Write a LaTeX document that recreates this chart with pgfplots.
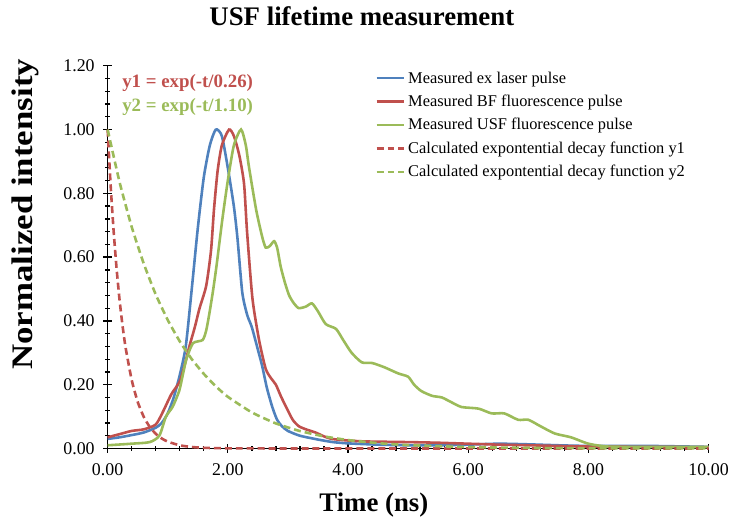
\documentclass[border=0pt]{standalone}
\usepackage{pgfplots}
\pgfplotsset{compat=1.18}
\usepackage{fontspec}
\setmainfont{Liberation Serif}
\definecolor{cblue}{HTML}{4F81BD}
\definecolor{cred}{HTML}{C0504D}
\definecolor{cgreen}{HTML}{9BBB59}
\begin{document}
\begin{tikzpicture}
\begin{axis}[
  at={(0,0)}, anchor=south west,
  scale only axis, width=603bp, height=384bp,
  xmin=0, xmax=10, ymin=0, ymax=1.2,
  axis x line*=bottom, axis y line*=left, axis line style={-, line width=1.3bp, black},
  xtick={0,2,4,6,8,10}, ytick={0,0.2,0.4,0.6,0.8,1.0,1.2},
  minor x tick num=4, minor y tick num=4,
  tick align=center, major tick length=9bp, minor tick length=5bp,
  tick style={black, line width=1.3bp},
  /pgf/number format/assume math mode=true,
  xticklabel style={yshift=-7bp, /pgf/number format/.cd, fixed, fixed zerofill, precision=2},
  yticklabel style={xshift=-5bp, /pgf/number format/.cd, fixed, fixed zerofill, precision=2},
  tick label style={font=\fontsize{18}{21}\selectfont},
  scaled ticks=false,
  xlabel={Time (ns)},
  ylabel={\scalebox{1.17}[1]{Normalized intensity}},
  xlabel style={at={(axis description cs:0.443,-0.164)}, anchor=base, font=\fontsize{27}{30}\selectfont\bfseries},
  ylabel style={at={(axis description cs:-0.1244,0.612)}, anchor=base, font=\fontsize{30}{33}\selectfont\bfseries},
  clip=false,
  legend style={draw=none, fill=none, at={(axis cs:4.45,1.19)}, anchor=north west,
    font=\fontsize{16.5}{19}\selectfont, row sep=5.5bp, inner sep=0pt,
    nodes={inner sep=2.5bp}},
  legend cell align=left,
  legend image code/.code={\draw[#1, line width=2.6bp] (0bp,0bp) -- (28bp,0bp);},
]
\addplot[cblue, line width=2.6bp, smooth, tension=0.4] coordinates {
(0,0.03) (0.2,0.035) (0.4,0.042) (0.6,0.05) (0.8,0.065) (0.9,0.08) (1.0,0.11) (1.1,0.16)
(1.2,0.23) (1.3,0.32) (1.4,0.50) (1.5,0.69) (1.6,0.85) (1.7,0.95) (1.8,1.0) (1.9,0.98)
(2.0,0.88) (2.1,0.76) (2.16,0.66) (2.24,0.49) (2.32,0.42) (2.4,0.38) (2.5,0.31) (2.57,0.26)
(2.65,0.19) (2.74,0.13) (2.82,0.09) (2.9,0.07) (3.0,0.055) (3.2,0.04) (3.5,0.028) (3.75,0.02)
(4.0,0.016) (4.5,0.012) (5.0,0.01) (5.5,0.01) (6.0,0.012) (6.5,0.015) (7.0,0.013) (7.5,0.01)
(8.0,0.008) (9.0,0.008) (10,0.005)};
\addlegendentry{Measured ex laser pulse}
\addplot[cred, line width=2.6bp, smooth, tension=0.4] coordinates {
(0,0.035) (0.2,0.045) (0.4,0.055) (0.6,0.06) (0.8,0.075) (0.92,0.115) (1.06,0.17) (1.2,0.21)
(1.28,0.26) (1.36,0.32) (1.45,0.38) (1.53,0.44) (1.64,0.51) (1.72,0.62) (1.77,0.75) (1.83,0.87)
(1.9,0.95) (2.02,1.0) (2.1,0.98) (2.19,0.92) (2.27,0.83) (2.32,0.68) (2.41,0.47) (2.52,0.34)
(2.63,0.25) (2.72,0.22) (2.8,0.20) (2.88,0.165) (2.97,0.13) (3.08,0.09) (3.18,0.07) (3.3,0.06)
(3.46,0.05) (3.6,0.038) (3.73,0.03) (4.0,0.025) (4.3,0.022) (5.0,0.02) (5.5,0.018) (6.0,0.015)
(6.5,0.012) (7.0,0.01) (8.0,0.006) (9.0,0.005) (10,0.004)};
\addlegendentry{Measured BF fluorescence pulse}
\addplot[cgreen, line width=2.6bp, smooth, tension=0.4] coordinates {
(0,0.01) (0.4,0.015) (0.7,0.02) (0.86,0.04) (0.97,0.10) (1.08,0.13) (1.19,0.18) (1.25,0.23)
(1.31,0.28) (1.42,0.33) (1.58,0.34) (1.64,0.37) (1.69,0.42) (1.75,0.49) (1.81,0.57) (1.91,0.72)
(2.0,0.84) (2.1,0.95) (2.22,1.0) (2.3,0.95) (2.35,0.885) (2.47,0.75) (2.57,0.665) (2.63,0.63)
(2.7,0.635) (2.77,0.65) (2.82,0.63) (2.88,0.57) (2.95,0.52) (3.02,0.48) (3.1,0.455) (3.18,0.44)
(3.3,0.445) (3.4,0.455) (3.5,0.43) (3.63,0.39) (3.8,0.375) (3.92,0.34) (4.06,0.30) (4.23,0.27)
(4.4,0.268) (4.6,0.255) (4.84,0.235) (5.0,0.225) (5.1,0.20) (5.22,0.18) (5.4,0.165) (5.56,0.16)
(5.72,0.145) (5.89,0.13) (6.17,0.125) (6.39,0.11) (6.6,0.11) (6.83,0.09) (7.0,0.09) (7.2,0.07)
(7.44,0.047) (7.71,0.035) (8.0,0.015) (8.33,0.006) (9.0,0.005) (10,0.005)};
\addlegendentry{Measured USF fluorescence pulse}
\addplot[cred, line width=2.6bp, dash pattern=on 7bp off 4bp, smooth, tension=0.3] coordinates {
(0,1.000) (0.05,0.825) (0.1,0.681) (0.15,0.562) (0.2,0.463) (0.25,0.382) (0.3,0.315) (0.4,0.215)
(0.5,0.146) (0.6,0.0995) (0.7,0.0677) (0.8,0.0461) (0.9,0.0314) (1.0,0.0214) (1.2,0.0099)
(1.4,0.0046) (1.6,0.0021) (2.0,0.0005) (3.0,0.0) (10,0.0)};
\addlegendentry{Calculated expontential decay function y1}
\addplot[cgreen, line width=2.6bp, dash pattern=on 7bp off 4bp, smooth, tension=0.3] coordinates {
(0,1.000) (0.2,0.834) (0.4,0.695) (0.6,0.580) (0.8,0.483) (1.0,0.403) (1.2,0.336) (1.4,0.280)
(1.6,0.234) (1.8,0.195) (2.0,0.162) (2.4,0.113) (2.8,0.0785) (3.2,0.0546) (3.6,0.0379)
(4.0,0.0264) (4.5,0.0167) (5.0,0.0106) (6.0,0.0043) (7.0,0.0017) (8.0,0.0007) (9.0,0.0003) (10,0.0001)};
\addlegendentry{Calculated expontential decay function y2}
\node[anchor=west, text=cred, font=\fontsize{19}{22}\selectfont\bfseries, inner sep=0pt] at (axis cs:0.24,1.147) {y1 = exp(-t/0.26)};
\node[anchor=west, text=cgreen, font=\fontsize{19}{22}\selectfont\bfseries, inner sep=0pt] at (axis cs:0.24,1.072) {y2 = exp(-t/1.10)};
\node[anchor=base, font=\fontsize{27}{30}\selectfont\bfseries, inner sep=0pt] at (axis description cs:0.423,1.104) {USF lifetime measurement};
\end{axis}
\path[use as bounding box] (-108bp,-73bp) rectangle (624bp,450bp);
\end{tikzpicture}
\end{document}
